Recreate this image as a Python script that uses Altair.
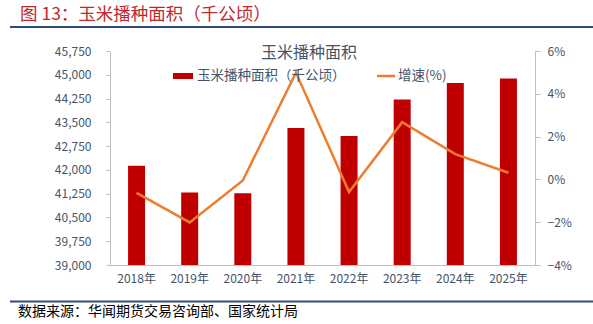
import altair as alt
import pandas as pd

years = ["2018年", "2019年", "2020年", "2021年", "2022年", "2023年", "2024年", "2025年"]
area = [42130, 41284, 41264, 43324, 43070, 44219, 44741, 44880]
growth = [-0.63, -2.01, -0.05, 4.99, -0.59, 2.67, 1.18, 0.31]

left_ticks = [39000, 39750, 40500, 41250, 42000, 42750, 43500, 44250, 45000, 45750]
right_ticks = [-4, -2, 0, 2, 4, 6]

df = pd.DataFrame({"year": years, "area": area, "growth": growth})

FONT = "Noto Sans CJK SC"
LABEL = "#44546A"
BAR = "#C00000"
LINE = "#ED7D31"
GRAY = "#BFBFBF"

x_enc = alt.X("year:N", sort=years, title=None,
              scale=alt.Scale(paddingInner=0.68, paddingOuter=0.34),
              axis=alt.Axis(labelAngle=0, ticks=False, domainColor=GRAY,
                            labelColor=LABEL, labelFont=FONT, labelFontSize=12,
                            labelPadding=8))

bars = alt.Chart(df).mark_bar(color=BAR, size=17).encode(
    x=x_enc,
    y=alt.Y("area:Q", title=None,
            scale=alt.Scale(domain=[39000, 45750], zero=False, nice=False),
            axis=alt.Axis(values=left_ticks, format=",.0f", grid=False, domainColor=GRAY,
                          tickColor=GRAY, tickSize=4, labelPadding=15,
                          labelColor=LABEL, labelFont=FONT, labelFontSize=12,
                          orient="left")),
    y2=alt.datum(39000),
)

line = alt.Chart(df).mark_line(color=LINE, strokeWidth=2.5).encode(
    x=alt.X("year:N", sort=years),
    y=alt.Y("growth:Q", title=None,
            scale=alt.Scale(domain=[-4, 6], nice=False, zero=False),
            axis=alt.Axis(values=right_ticks, labelExpr="format(datum.value, 'd') + '%'",
                          grid=False, domainColor=GRAY, tickColor=GRAY, tickSize=5,
                          labelPadding=7, labelColor=LABEL, labelFont=FONT,
                          labelFontSize=12, orient="right")),
)

one = alt.Data(values=[{"a": 1}])

title = alt.Chart(one).mark_text(
    text="图 13：玉米播种面积（千公顷）", align="left", baseline="middle",
    font=FONT, fontSize=17.5, color="#C0272D"
).encode(x=alt.value(-90), y=alt.value(-36))

top_rule = alt.Chart(one).mark_rule(color="#2E4A7D", strokeWidth=2).encode(
    x=alt.value(-100), x2=alt.value(483), y=alt.value(-24))

bottom_rule = alt.Chart(one).mark_rule(color="#2E4A7D", strokeWidth=2).encode(
    x=alt.value(-100), x2=alt.value(483), y=alt.value(250.5))

source = alt.Chart(one).mark_text(
    text="数据来源：华闻期货交易咨询部、国家统计局", align="left", baseline="middle",
    font=FONT, fontSize=14, color="#000000"
).encode(x=alt.value(-92), y=alt.value(261))

chart_title = alt.Chart(one).mark_text(
    text="玉米播种面积", align="center", baseline="middle",
    font=FONT, fontSize=16, color=LABEL
).encode(x=alt.value(199), y=alt.value(2))

leg_rect = alt.Chart(one).mark_rect(color=BAR).encode(
    x=alt.value(63), x2=alt.value(83), y=alt.value(22), y2=alt.value(28))

leg_text1 = alt.Chart(one).mark_text(
    text="玉米播种面积（千公顷）", align="left", baseline="middle",
    font=FONT, fontSize=13.5, color=LABEL
).encode(x=alt.value(87), y=alt.value(25))

leg_line = alt.Chart(one).mark_rule(color=LINE, strokeWidth=2.5).encode(
    x=alt.value(267), x2=alt.value(285), y=alt.value(25))

leg_text2 = alt.Chart(one).mark_text(
    text="增速(%)", align="left", baseline="middle",
    font=FONT, fontSize=13.5, color=LABEL
).encode(x=alt.value(288), y=alt.value(25))

chart = alt.layer(
    bars, line, title, top_rule, bottom_rule, source, chart_title,
    leg_rect, leg_text1, leg_line, leg_text2
).resolve_scale(y="independent").properties(
    width=425, height=214,
    padding={"left": 110, "top": 51, "right": 58, "bottom": 59},
    autosize=alt.AutoSizeParams(type="none"),
    background="white",
).configure_view(stroke=None)

chart.save("out.html", embed_options={"renderer": "svg", "actions": False})
